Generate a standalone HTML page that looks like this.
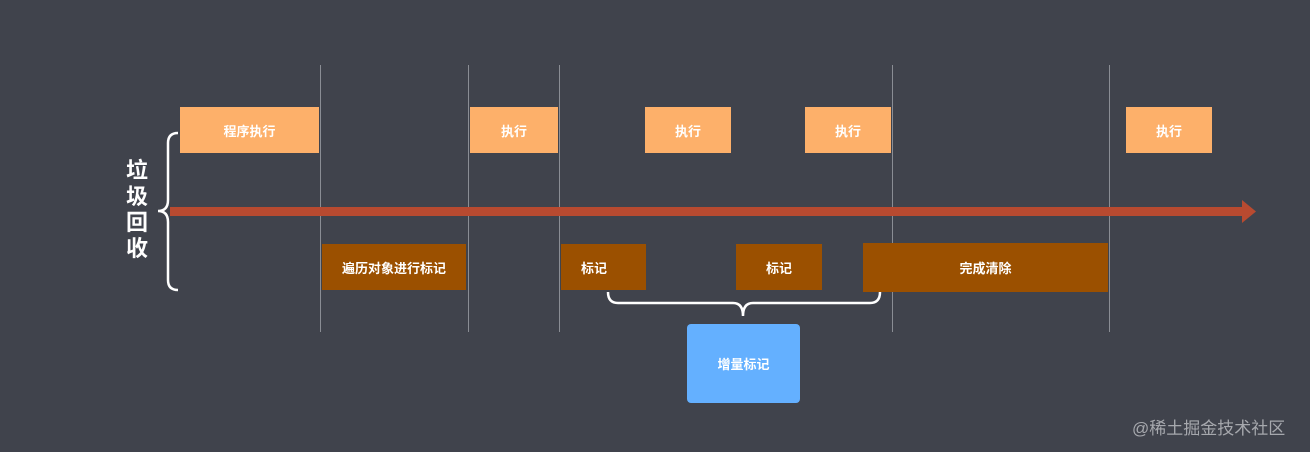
<!DOCTYPE html>
<html><head><meta charset="utf-8"><style>
body{margin:0;width:1310px;height:452px;background:#40434c;position:relative;overflow:hidden;font-family:"Liberation Sans","Noto Sans CJK SC",sans-serif}
.v{position:absolute;top:65px;height:267px;width:1px;background:#8a8d94}
.b{position:absolute;display:flex;align-items:center;justify-content:center;color:#fff;font-weight:bold;font-size:13px}
.t{background:#fdb06a}
.d{background:#9b5000}
</style></head><body>
<div class="v" style="left:320px"></div>
<div class="v" style="left:468px"></div>
<div class="v" style="left:559px"></div>
<div class="v" style="left:892px"></div>
<div class="v" style="left:1109px"></div>
<div class="b t" style="left:180px;top:107px;width:139px;height:46px">程序执行</div>
<div class="b t" style="left:470px;top:107px;width:88px;height:46px">执行</div>
<div class="b t" style="left:645px;top:107px;width:86px;height:46px">执行</div>
<div class="b t" style="left:805px;top:107px;width:86px;height:46px">执行</div>
<div class="b t" style="left:1126px;top:107px;width:86px;height:46px">执行</div>
<div style="position:absolute;left:170px;top:207px;width:1075px;height:9px;background:#b84a30"></div>
<svg style="position:absolute;left:0;top:0" width="1310" height="452">
<polygon points="1242,200 1256,211.5 1242,223" fill="#b84a30"/>
<path d="M178,133 Q168,133 168,143 L168,200 Q168,211 158,211 Q168,211 168,222 L168,280 Q168,290 178,290" fill="none" stroke="#fff" stroke-width="2.5"/>
<path d="M608,292 Q608,303 618,303 L733,303 Q743,303 743,316 Q743,303 753,303 L870,303 Q880,303 880,292" fill="none" stroke="#fff" stroke-width="2.5"/>
</svg>
<div style="position:absolute;left:122px;top:158px;width:30px;color:#fff;font-weight:bold;font-size:22px;line-height:26px;text-align:center">垃<br>圾<br>回<br>收</div>
<div class="b d" style="left:322px;top:244px;width:144px;height:46px">遍历对象进行标记</div>
<div class="b d" style="left:561px;top:244px;width:85px;height:46px;justify-content:flex-start;padding-left:0"><span style="margin-left:20px">标记</span></div>
<div class="b d" style="left:736px;top:244px;width:86px;height:46px">标记</div>
<div class="b d" style="left:863px;top:243px;width:245px;height:49px">完成清除</div>
<div class="b" style="left:687px;top:324px;width:113px;height:79px;background:#64b0ff;border-radius:4px">增量标记</div>
<div style="position:absolute;left:1132px;top:414px;color:#a6a8ad;font-size:17px">@稀土掘金技术社区</div>
</body></html>
